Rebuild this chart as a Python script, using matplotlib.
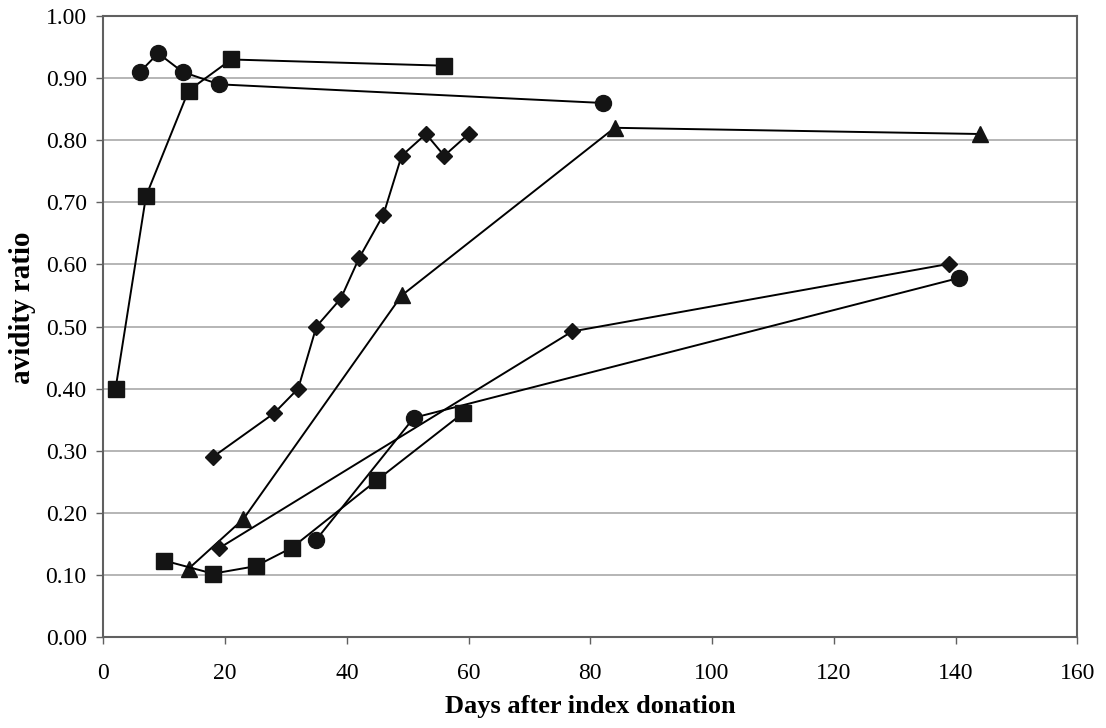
import matplotlib.pyplot as plt

# squares, top-left series
sq1_x = [2, 7, 14, 21, 56]
sq1_y = [0.40, 0.71, 0.88, 0.93, 0.92]

# circles, top-left series
ci1_x = [6, 9, 13, 19, 82]
ci1_y = [0.91, 0.94, 0.91, 0.89, 0.86]

# diamonds, steep series
di1_x = [18, 28, 32, 35, 39, 42, 46, 49, 53, 56, 60]
di1_y = [0.29, 0.36, 0.40, 0.50, 0.545, 0.61, 0.68, 0.775, 0.81, 0.775, 0.81]

# triangles
tr_x = [14, 23, 49, 84, 144]
tr_y = [0.11, 0.19, 0.55, 0.82, 0.81]

# diamonds, slow series
di2_x = [19, 77, 139]
di2_y = [0.143, 0.492, 0.601]

# circles, slow series
ci2_x = [35, 51, 140.5]
ci2_y = [0.157, 0.353, 0.578]

# squares, slow series
sq2_x = [10, 18, 25, 31, 45, 59]
sq2_y = [0.123, 0.102, 0.114, 0.144, 0.253, 0.36]

plt.rcParams['font.family'] = ['Liberation Serif', 'DejaVu Serif']

fig = plt.figure(figsize=(11.06, 7.28), dpi=100)
ax = fig.add_axes([0.0935, 0.125, 0.8805, 0.853])

mk = '#141414'
lw = 1.4
ax.plot(sq1_x, sq1_y, color='black', lw=lw, marker='s', ms=11.5, mfc=mk, mec=mk, zorder=3)
ax.plot(ci1_x, ci1_y, color='black', lw=lw, marker='o', ms=11.5, mfc=mk, mec=mk, zorder=3)
ax.plot(di1_x, di1_y, color='black', lw=lw, marker='D', ms=8.5, mfc=mk, mec=mk, zorder=3)
ax.plot(tr_x, tr_y, color='black', lw=lw, marker='^', ms=11.5, mfc=mk, mec=mk, zorder=3)
ax.plot(di2_x, di2_y, color='black', lw=lw, marker='D', ms=8.5, mfc=mk, mec=mk, zorder=3)
ax.plot(ci2_x, ci2_y, color='black', lw=lw, marker='o', ms=11.5, mfc=mk, mec=mk, zorder=3)
ax.plot(sq2_x, sq2_y, color='black', lw=lw, marker='s', ms=11.5, mfc=mk, mec=mk, zorder=3)

ax.set_xlim(0, 160)
ax.set_ylim(0, 1.0)
ax.set_xticks(range(0, 161, 20))
ax.set_yticks([i / 10 for i in range(11)])
ax.set_yticklabels(['%.2f' % (i / 10) for i in range(11)])
ax.yaxis.grid(True, color='#b0b0b0', lw=1.3)
ax.set_axisbelow(True)

for s in ax.spines.values():
    s.set_color('#606060')
    s.set_linewidth(1.5)
ax.tick_params(direction='out', length=5, width=1, color='#606060',
               labelsize=17)
ax.tick_params(axis='y', pad=7)
ax.tick_params(axis='x', pad=14)

ax.set_xlabel('Days after index donation', fontsize=19, fontweight='bold')
ax.set_ylabel('avidity ratio', fontsize=21, fontweight='bold')
ax.xaxis.set_label_coords(0.5, -0.094)
ax.yaxis.set_label_coords(-0.069, 0.53)

fig.savefig('out.png', dpi=100)
